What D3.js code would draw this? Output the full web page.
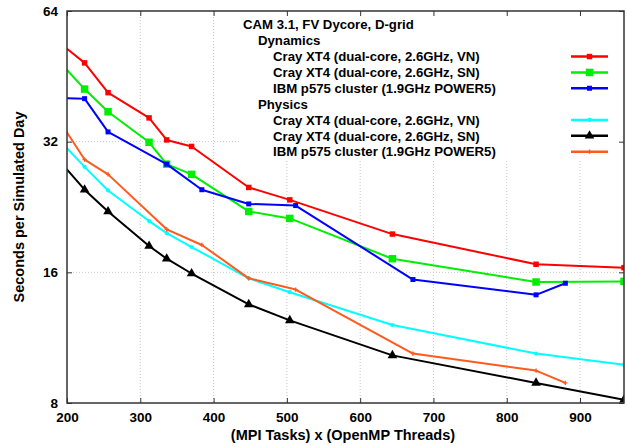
<!DOCTYPE html>
<html>
<head>
<meta charset="utf-8">
<script src="https://cdn.jsdelivr.net/npm/d3@7"></script>
<style>
  body { margin: 0; background: #fff; }
  text { font-family: "Liberation Sans", Arial, sans-serif; font-weight: bold; fill: #000; }
</style>
</head>
<body>
<svg id="chart" width="627" height="446"></svg>
<script>
// Processor counts: (MPI tasks) x (OpenMP threads)
const crayX = [160, 224, 256, 312, 336, 370, 448, 504, 644, 840, 960];
const ibmX  = [160, 224, 256, 336, 384, 448, 512, 672, 840, 880];

// Seconds per simulated day
const dynCrayVN = [59.4, 48.6, 41.5, 36.3, 32.3, 31.2, 25.1, 23.5, 19.6, 16.7, 16.4];
const dynCraySN = [55.4, 42.3, 37.5, 31.9, 28.4, 26.9, 22.1, 21.3, 17.2, 15.2, 15.25];
const dynIBM    = [40.4, 40.2, 33.7, 28.4, 24.8, 23.0, 22.8, 15.4, 14.2, 15.1];
const phyCrayVN = [36.4, 28.0, 24.7, 21.0, 19.7, 18.3, 15.5, 14.4, 12.1, 10.4, 9.8];
const phyCraySN = [33.0, 24.8, 22.1, 18.4, 17.2, 15.9, 13.5, 12.4, 10.3, 8.9, 8.14];
const phyIBM    = [42.7, 29.1, 26.9, 20.1, 18.5, 15.5, 14.6, 10.4, 9.5, 8.9];

const xTicks = [200, 300, 400, 500, 600, 700, 800, 900];
const yTicks = [8, 16, 32, 64];

const legendTitle = "CAM 3.1, FV Dycore, D-grid";
const groupNames = ["Dynamics", "Physics"];
const machineNames = [
  "Cray XT4 (dual-core, 2.6GHz, VN)",
  "Cray XT4 (dual-core, 2.6GHz, SN)",
  "IBM p575 cluster (1.9GHz POWER5)"
];

const series = [
  { group: 0, name: machineNames[0], xs: crayX, ys: dynCrayVN, color: "#ff0000", sym: d3.symbolSquare, size: 30 },
  { group: 0, name: machineNames[1], xs: crayX, ys: dynCraySN, color: "#00ee00", sym: d3.symbolSquare, size: 56 },
  { group: 0, name: machineNames[2], xs: ibmX,  ys: dynIBM,    color: "#0000ff", sym: d3.symbolSquare, size: 25 },
  { group: 1, name: machineNames[0], xs: crayX, ys: phyCrayVN, color: "#00ffff", sym: d3.symbolCircle, size: 14 },
  { group: 1, name: machineNames[1], xs: crayX, ys: phyCraySN, color: "#000000", sym: d3.symbolTriangle, size: 40 },
  { group: 1, name: machineNames[2], xs: ibmX,  ys: phyIBM,    color: "#ff5a1e", sym: d3.symbolCross, size: 10 }
];

const L = 67, R = 624, T = 11, B = 403;
const svg = d3.select("#chart");

const x = d3.scaleLinear().domain([200, 960]).range([L, R]);
const y = d3.scaleLog().base(2).domain([8, 64]).range([B, T]);

// grid
const grid = svg.append("g").attr("stroke", "#c8c8c8").attr("stroke-width", 1).attr("stroke-dasharray", "1,2");
grid.selectAll(".gx").data(xTicks.slice(1)).join("line")
  .attr("x1", d => x(d)).attr("x2", d => x(d)).attr("y1", T).attr("y2", B);
grid.selectAll(".gy").data(yTicks.slice(1, -1)).join("line")
  .attr("x1", L).attr("x2", R).attr("y1", d => y(d)).attr("y2", d => y(d));

// opaque key area
svg.append("rect").attr("x", 240).attr("y", T + 1).attr("width", R - 241).attr("height", 148).attr("fill", "#fff");

// axes
const fmt = d => String(d);
const axB = svg.append("g").attr("transform", `translate(0,${B})`)
  .call(d3.axisBottom(x).tickValues(xTicks).tickFormat(fmt).tickSizeInner(-5).tickSizeOuter(0).tickPadding(9));
const axT = svg.append("g").attr("transform", `translate(0,${T})`)
  .call(d3.axisTop(x).tickValues(xTicks).tickFormat("").tickSizeInner(-5).tickSizeOuter(0));
const axLft = svg.append("g").attr("transform", `translate(${L},0)`)
  .call(d3.axisLeft(y).tickValues(yTicks).tickFormat(fmt).tickSizeInner(-5).tickSizeOuter(0).tickPadding(9));
const axRgt = svg.append("g").attr("transform", `translate(${R},0)`)
  .call(d3.axisRight(y).tickValues(yTicks).tickFormat("").tickSizeInner(-5).tickSizeOuter(0));
[axB, axT, axLft, axRgt].forEach(a => {
  a.select(".domain").remove();
  a.selectAll(".tick line").attr("stroke", "#333");
  a.selectAll("text").attr("font-size", 13.5).attr("font-family", '"Liberation Sans", Arial, sans-serif').attr("font-weight", "bold").attr("fill", "#000");
});

// data
svg.append("clipPath").attr("id", "plot").append("rect").attr("x", L).attr("y", T).attr("width", R - L).attr("height", B - T);
const plot = svg.append("g").attr("clip-path", "url(#plot)");
const line = d3.line().x(d => x(d[0])).y(d => y(d[1]));
series.forEach(s => {
  const pts = s.xs.map((v, i) => [v, s.ys[i]]);
  plot.append("path").datum(pts).attr("d", line)
    .attr("fill", "none").attr("stroke", s.color).attr("stroke-width", 2).attr("stroke-linejoin", "round");
  plot.selectAll(null).data(pts.filter(p => p[0] >= 200)).join("path")
    .attr("transform", p => `translate(${x(p[0])},${y(p[1])})`)
    .attr("d", d3.symbol().type(s.sym).size(s.size)).attr("fill", s.color);
});

// frame
svg.append("rect").attr("x", L).attr("y", T).attr("width", R - L).attr("height", B - T)
  .attr("fill", "none").attr("stroke", "#333").attr("stroke-width", 1.5);

// key
const key = svg.append("g").attr("font-size", 13.2);
key.append("text").attr("x", 243).attr("y", 29).text(legendTitle);
const rowY = i => 40.7 + i * 15.85;
let row = 0;
groupNames.forEach((g, gi) => {
  key.append("text").attr("x", 258).attr("y", rowY(row) + 4.7).text(g);
  row++;
  series.filter(s => s.group === gi).forEach(s => {
    const cy = rowY(row);
    key.append("text").attr("x", 273).attr("y", cy + 4.7).text(s.name);
    key.append("line").attr("x1", 571).attr("x2", 608).attr("y1", cy).attr("y2", cy)
      .attr("stroke", s.color).attr("stroke-width", 2.5);
    key.append("path").attr("transform", `translate(589.5,${cy})`)
      .attr("d", d3.symbol().type(s.sym).size(s.size)).attr("fill", s.color);
    row++;
  });
});

// axis titles
svg.append("text").attr("x", 343).attr("y", 440).attr("text-anchor", "middle").attr("font-size", 14.5)
  .text("(MPI Tasks) x (OpenMP Threads)");
svg.append("text").attr("transform", "translate(24,207) rotate(-90)").attr("text-anchor", "middle").attr("font-size", 14.5)
  .text("Seconds per Simulated Day");
</script>
</body>
</html>
